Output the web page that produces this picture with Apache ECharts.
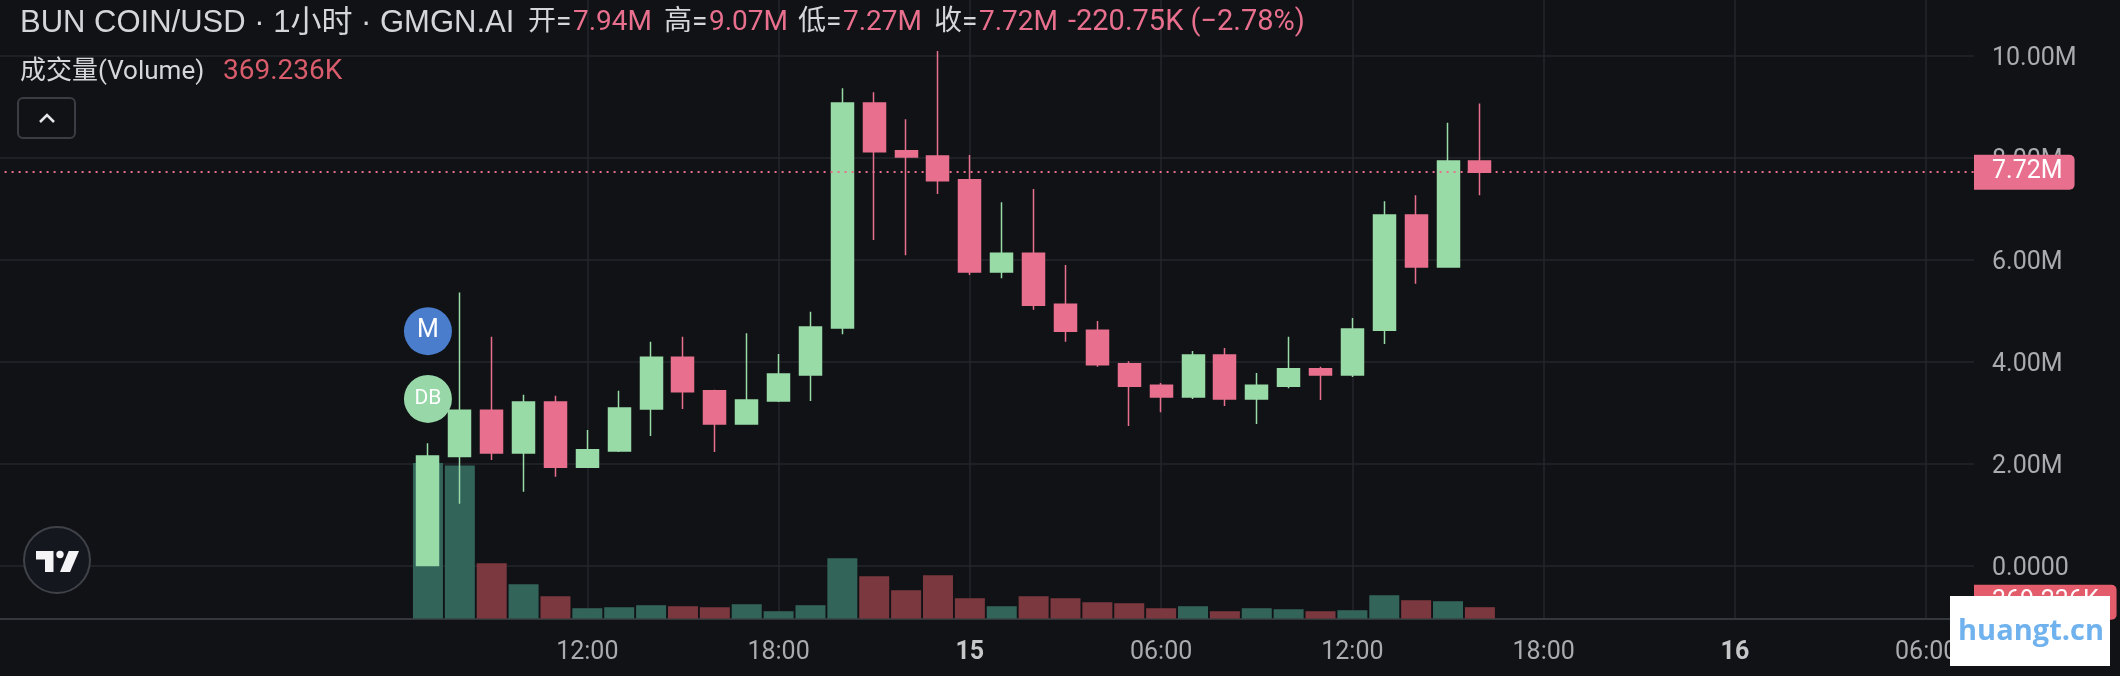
<!DOCTYPE html>
<html lang="zh">
<head>
    <meta charset="UTF-8">
    <title>BUN COIN/USD</title>
    <script src="https://cdn.jsdelivr.net/npm/echarts@6/dist/echarts.min.js"></script>
    <style>
        html, body { margin: 0; padding: 0; background: #101215; overflow: hidden; }
        /* grid can't start left of the canvas, so the canvas starts left of the page */
        #main { width: 2140px; height: 676px; margin-left: -20px; }
    </style>
</head>
<body>
<div id="main"></div>
<script>
    // hourly slots, 13th 18:00 through 16th 07:00
    var hours = [];
    for (var h = 0; h < 62; h++) {
        var hr = (18 + h) % 24;
        hours.push((hr < 10 ? '0' : '') + hr + ':00');
    }
    var tickLabels = { 18: '12:00', 24: '18:00', 30: '15', 36: '06:00', 42: '12:00', 48: '18:00', 54: '16', 60: '06:00' };
    var firstSlot = 13;

    // prices in millions, one row per candle: open, close, low, high
    var candles = [
        [0.00, 2.15, 0.00, 2.40], [2.14, 3.05, 1.21, 5.36], [3.05, 2.21, 2.07, 4.49], [2.21, 3.21, 1.45, 3.35],
        [3.21, 1.93, 1.74, 3.33], [1.93, 2.27, 1.93, 2.66], [2.25, 3.09, 2.23, 3.43], [3.07, 4.09, 2.54, 4.39],
        [4.09, 3.41, 3.07, 4.49], [3.43, 2.78, 2.23, 3.45], [2.78, 3.25, 2.78, 4.56], [3.23, 3.76, 3.21, 4.15],
        [3.74, 4.68, 3.23, 4.98], [4.66, 9.08, 4.54, 9.37], [9.08, 8.12, 6.39, 9.29], [8.14, 8.02, 6.09, 8.76],
        [8.04, 7.55, 7.29, 10.10], [7.57, 5.76, 5.70, 8.06], [5.76, 6.13, 5.64, 7.13], [6.13, 5.11, 5.02, 7.39],
        [5.13, 4.60, 4.39, 5.90], [4.62, 3.94, 3.90, 4.80], [3.96, 3.52, 2.74, 4.01], [3.54, 3.31, 3.01, 3.58],
        [3.31, 4.13, 3.27, 4.21], [4.13, 3.27, 3.13, 4.27], [3.27, 3.54, 2.78, 3.78], [3.52, 3.86, 3.48, 4.49],
        [3.86, 3.74, 3.25, 3.90], [3.74, 4.64, 3.70, 4.86], [4.62, 6.88, 4.35, 7.15], [6.88, 5.86, 5.53, 7.27],
        [5.86, 7.94, 5.86, 8.69], [7.94, 7.72, 7.27, 9.07]
    ];
    // volume in thousands
    var volumes = [
        5076, 4998, 1803, 1118, 727, 336, 368, 434, 401, 368, 466, 238, 434, 1966, 1379, 923, 1412,
        662, 401, 727, 662, 531, 499, 336, 401, 238, 336, 303, 238, 271, 760, 597, 564, 369.236
    ];
    var lastClose = 7.72;
    var lastVolume = 369.236;
    var priceTicks = [0, 2, 4, 6, 8, 10];
    var badges = [
        { name: 'M', value: 4.60, color: '#4a7dcb', size: 25 },
        { name: 'DB', value: 3.27, color: '#98d8a8', size: 21 }
    ];

    var upColor = '#98dba6', downColor = '#e8708e';
    var upVol = '#33645a', downVol = '#7c383f';
    var fontName = 'Roboto';

    var candleData = hours.map(function (v, i) {
        return candles[i - firstSlot] || ['-', '-', '-', '-'];
    });
    var volumeData = hours.map(function (v, i) {
        var k = i - firstSlot;
        if (k < 0 || k >= volumes.length) return '-';
        return {
            value: volumes[k],
            itemStyle: { color: candles[k][1] >= candles[k][0] ? upVol : downVol }
        };
    });
    var badgeData = badges.map(function (b) {
        return {
            value: [firstSlot, b.value],
            itemStyle: { color: b.color, opacity: 1 },
            label: { formatter: b.name, fontSize: b.size }
        };
    });

    function headText(x, y, text, color, size, family) {
        return {
            type: 'text', x: x, y: y, z: 50,
            style: {
                text: text, fill: color,
                font: (size || 28) + 'px ' + (family || fontName) + ', "Noto Sans CJK SC"',
                textVerticalAlign: 'middle'
            }
        };
    }

    var myChart = echarts.init(document.getElementById('main'));

    var option = {
        backgroundColor: '#101215',
        animation: false,
        grid: { left: 17.6, right: 146, top: 0, bottom: 57.5, containLabel: false },
        xAxis: {
            type: 'category',
            data: hours,
            axisLine: { onZero: false, lineStyle: { color: '#34373c', width: 2 } },
            axisTick: { show: false },
            axisLabel: {
                interval: 0,
                margin: 22,
                fontFamily: fontName,
                fontSize: 25,
                color: '#a9abae',
                formatter: function (v, i) {
                    var t = tickLabels[i];
                    if (!t) return '';
                    return t.length < 3 ? '{b|' + t + '}' : t;
                },
                rich: { b: { fontFamily: fontName, fontSize: 25, fontWeight: 'bold', color: '#c6c7c9' } }
            },
            splitLine: {
                show: true,
                alignWithLabel: true,
                interval: function (i) { return tickLabels[i] !== undefined; },
                lineStyle: { color: '#24262b', width: 1.5 }
            }
        },
        yAxis: [
            {
                type: 'value',
                position: 'right',
                min: -1.04,
                max: 11.1,
                axisLine: { show: false },
                axisTick: { show: false, customValues: priceTicks },
                axisLabel: {
                    customValues: priceTicks,
                    margin: 18,
                    formatter: function (v) { return '{v|' + (v === 0 ? '0.0000' : v.toFixed(2) + 'M') + '}'; },
                    rich: { v: { fontFamily: fontName, fontSize: 25, color: '#a9abae', padding: [6, 0, 0, 0] } }
                },
                splitLine: { show: true, lineStyle: { color: '#24262b', width: 1.5 } }
            },
            {
                type: 'value',
                min: 0,
                max: 20200,
                show: false
            }
        ],
        series: [
            {
                name: '成交量(Volume)',
                type: 'bar',
                yAxisIndex: 1,
                barWidth: 30,
                z: 1,
                data: volumeData,
                markLine: {
                    silent: true,
                    symbol: 'none',
                    animation: false,
                    lineStyle: { color: 'transparent', width: 0 },
                    label: {
                        position: 'end',
                        distance: 0,
                        offset: [0, -5],
                        formatter: lastVolume.toFixed(3) + 'K',
                        fontFamily: fontName,
                        fontSize: 25,
                        color: '#ffffff',
                        backgroundColor: '#e25c6b',
                        borderRadius: [0, 5, 5, 0],
                        padding: [5, 18, 5, 18]
                    },
                    data: [{ yAxis: lastVolume }]
                }
            },
            {
                name: 'BUN COIN/USD',
                type: 'candlestick',
                barWidth: 22.5,
                z: 3,
                itemStyle: {
                    color: upColor, color0: downColor,
                    borderColor: upColor, borderColor0: downColor,
                    borderWidth: 1.5
                },
                data: candleData,
                markLine: {
                    silent: true,
                    symbol: 'none',
                    animation: false,
                    lineStyle: { color: downColor, type: [2, 5], width: 2 },
                    label: {
                        position: 'end',
                        distance: 0,
                        formatter: lastClose.toFixed(2) + 'M',
                        fontFamily: fontName,
                        fontSize: 25,
                        color: '#ffffff',
                        backgroundColor: downColor,
                        borderRadius: [0, 5, 5, 0],
                        padding: [7, 12, 3, 18]
                    },
                    data: [{ yAxis: lastClose }]
                }
            },
            {
                name: 'badges',
                type: 'scatter',
                symbolSize: 48,
                z: 2,
                data: badgeData,
                label: { show: true, position: 'inside', color: '#ffffff', fontFamily: fontName }
            }
        ],
        graphic: {
            type: 'group',
            x: 20,
            y: 0,
            children: [
                headText(20, 23, 'BUN COIN/USD · 1小时 · GMGN.AI', '#d5d6d9', 31, '"Liberation Sans"'),
                headText(528, 23, '开=', '#d5d6d9'), headText(573, 23, '7.94M', downColor),
                headText(664, 23, '高=', '#d5d6d9'), headText(709, 23, '9.07M', downColor),
                headText(798, 23, '低=', '#d5d6d9'), headText(843, 23, '7.27M', downColor),
                headText(934, 23, '收=', '#d5d6d9'), headText(979, 23, '7.72M', downColor),
                headText(1068, 23, '-220.75K (−2.78%)', downColor, 29),
                headText(20, 72, '成交量(Volume)', '#d5d6d9', 26),
                headText(223, 72, '369.236K', '#d85c6b'),
                // collapse button
                { type: 'rect', z: 50, shape: { x: 18, y: 98, width: 57, height: 40, r: 5 },
                  style: { fill: 'transparent', stroke: '#3a3d43', lineWidth: 2 } },
                { type: 'polyline', z: 50, shape: { points: [[40, 122], [47, 115], [54, 122]] },
                  style: { fill: 'none', stroke: '#e6e6e8', lineWidth: 2.5 } },
                // logo
                { type: 'circle', z: 50, shape: { cx: 57, cy: 560, r: 33 },
                  style: { fill: '#15171f', stroke: '#3f4248', lineWidth: 2 } },
                { type: 'polygon', z: 51, shape: { points: [[36, 551], [53.5, 551], [53.5, 572], [45, 572], [45, 559.5], [36, 559.5]] },
                  style: { fill: '#f4f4f6' } },
                { type: 'polygon', z: 51, shape: { points: [[68.7, 551], [79, 551], [70, 572], [60, 572]] },
                  style: { fill: '#f4f4f6' } },
                { type: 'circle', z: 51, shape: { cx: 60, cy: 554.5, r: 3.7 }, style: { fill: '#f4f4f6' } },
                // watermark
                { type: 'rect', z: 100, shape: { x: 1950, y: 596, width: 160, height: 70 }, style: { fill: '#ffffff' } },
                { type: 'text', z: 101, x: 2031, y: 632,
                  style: { text: 'huangt.cn', fill: '#6fb2ee', font: 'bold 29px "Open Sans"', textAlign: 'center', textVerticalAlign: 'middle' } }
            ]
        }
    };

    myChart.setOption(option);
</script>
</body>
</html>
